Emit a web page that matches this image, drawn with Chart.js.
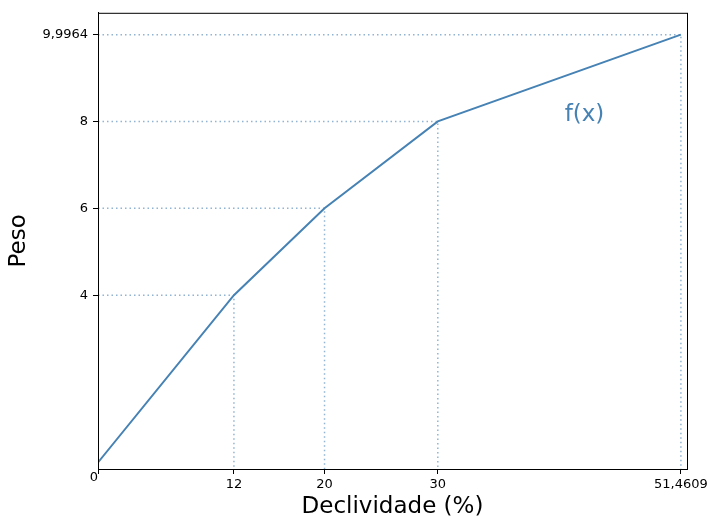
<!DOCTYPE html>
<html>
<head>
<meta charset="utf-8">
<script src="https://cdn.jsdelivr.net/npm/chart.js@4"></script>
<style>
  body { margin: 0; background: #fff; }
  #wrap { width: 707px; height: 517px; }
</style>
</head>
<body>
<div id="wrap"><canvas id="myChart"></canvas></div>
<script>
// values
const declividade = [0, 12, 20, 30, 51.4609];
const peso = [0.15, 4, 6, 8, 9.9964];
const xTicks = [0, 12, 20, 30, 51.4609];
const yTicks = [4, 6, 8, 9.9964];
const curveLabel = "f(x)";

const lineColor = "#4682b4";
const guideColor = "rgba(70, 130, 180, 0.6)";
const fontFamily = "'DejaVu Sans', sans-serif";

const fmt = (v) => String(v).replace(".", ",");

// dotted guides from each point to both axes
const guides = [];
for (let i = 1; i < declividade.length; i++) {
  guides.push({
    data: [
      { x: 0, y: peso[i] },
      { x: declividade[i], y: peso[i] },
      { x: declividade[i], y: 0 },
    ],
    borderColor: guideColor,
    borderWidth: 1.5,
    borderDash: [1.5, 3],
    pointRadius: 0,
    showLine: true,
  });
}

const extras = {
  id: "extras",
  afterDraw(chart) {
    const { ctx, chartArea, scales } = chart;
    ctx.save();
    // box around plot
    ctx.strokeStyle = "#000";
    ctx.lineWidth = 1;
    ctx.strokeRect(chartArea.left + 0.5, chartArea.top + 0.5,
      chartArea.right - chartArea.left, chartArea.bottom - chartArea.top);
    // the "0" label sits a bit higher than the other x labels
    ctx.fillStyle = "#000";
    ctx.font = "13px " + fontFamily;
    ctx.textAlign = "center";
    ctx.textBaseline = "middle";
    ctx.fillText("0", scales.x.getPixelForValue(0) - 4, chartArea.bottom + 9);
    // curve label
    ctx.fillStyle = lineColor;
    ctx.font = "23px " + fontFamily;
    ctx.textAlign = "left";
    ctx.fillText(curveLabel, scales.x.getPixelForValue(41.2), scales.y.getPixelForValue(8.15));
    ctx.restore();
  },
};

const ctx = document.getElementById("myChart");

new Chart(ctx, {
  type: "scatter",
  data: {
    datasets: [
      {
        data: declividade.map((x, i) => ({ x, y: peso[i] })),
        borderColor: lineColor,
        borderWidth: 2,
        pointRadius: 0,
        showLine: true,
      },
      ...guides,
    ],
  },
  options: {
    responsive: true,
    maintainAspectRatio: false,
    animation: false,
    layout: { padding: { top: 12, right: 20, left: 0, bottom: 0 } },
    plugins: { legend: { display: false }, tooltip: { enabled: false } },
    scales: {
      x: {
        type: "linear",
        min: 0,
        max: 52,
        afterFit: (s) => { s.height = 48; s.paddingRight = 0; },
        afterBuildTicks: (s) => { s.ticks = xTicks.map((v) => ({ value: v })); },
        ticks: {
          autoSkip: false,
          maxRotation: 0,
          padding: 3,
          color: "#000",
          font: { family: fontFamily, size: 13 },
          callback: (v) => (v === 0 ? "" : fmt(v)),
        },
        grid: { drawOnChartArea: false, tickLength: 5, tickColor: "#000", color: "#000" },
        border: { color: "#000", width: 1 },
        title: {
          display: true,
          text: "Declividade (%)",
          color: "#000",
          font: { family: fontFamily, size: 23 },
          padding: { top: 0, bottom: -4 },
        },
      },
      y: {
        min: 0,
        max: 10.5,
        afterFit: (s) => { s.width = 98; },
        afterBuildTicks: (s) => { s.ticks = yTicks.map((v) => ({ value: v })); },
        ticks: {
          autoSkip: false,
          padding: 5,
          color: "#000",
          font: { family: fontFamily, size: 13 },
          callback: (v) => fmt(v),
        },
        grid: { drawOnChartArea: false, tickLength: 5, tickColor: "#000", color: "#000" },
        border: { color: "#000", width: 1 },
        title: {
          display: true,
          text: "Peso",
          color: "#000",
          font: { family: fontFamily, size: 23 },
          padding: { top: 5, bottom: 0 },
        },
      },
    },
  },
  plugins: [extras],
});
</script>
</body>
</html>
